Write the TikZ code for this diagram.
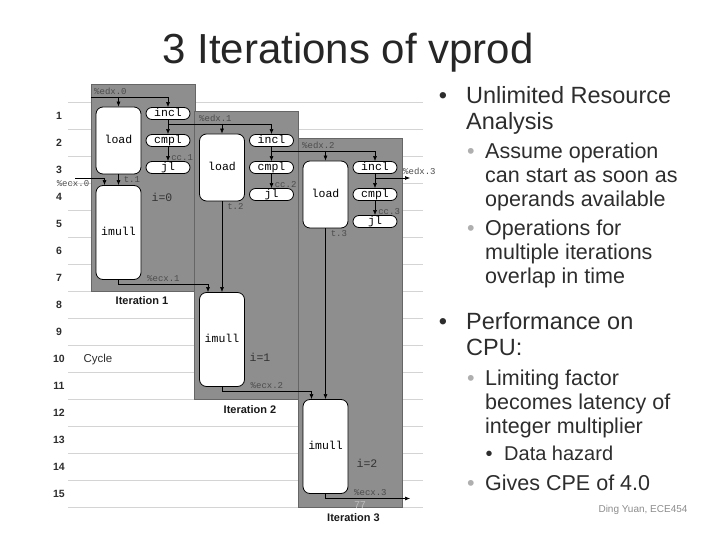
\documentclass[tikz,border=0pt]{standalone}
\usepackage{fontspec}
\setmainfont{Liberation Sans}
\setmonofont{Liberation Mono}
\usetikzlibrary{arrows.meta}
\definecolor{iterG}{RGB}{142,142,142}
\definecolor{gridG}{RGB}{212,212,212}
\definecolor{txtD}{RGB}{45,45,45}
\definecolor{bulG}{RGB}{175,175,175}

\begin{document}
\begin{tikzpicture}[x=1pt,y=-1pt,>={Latex[length=5pt,width=4pt]},
  op/.style={draw=black,fill=white,line width=0.8pt,rounded corners=7pt,minimum width=45pt,inner sep=0pt,
    text height=7.5pt,text depth=1.5pt,font=\ttfamily\fontsize{11.5}{12}\selectfont},
  pill/.style={op,rounded corners=6pt,minimum width=44pt,minimum height=12pt},
  reg/.style={font=\ttfamily\fontsize{9}{9}\selectfont,text=black!70,inner sep=0pt},
  wire/.style={line width=0.6pt,->},
  main/.style={anchor=base west,inner sep=0pt,text=txtD,font=\fontsize{23.5}{26}\selectfont},
  sub/.style={main,font=\fontsize{21.5}{24}\selectfont},
  subsub/.style={main,font=\fontsize{20}{22}\selectfont}]
\useasboundingbox (0,0) rectangle (720,540);

% title
\node[anchor=base,inner sep=0pt,text=black!85,font=\fontsize{42}{44}\selectfont] (title) at (348,63.5) {3 Iterations of vprod};

% cycle grid
\foreach \c in {0,...,15}
  \draw[gridG,line width=0.8pt] (68,{102+27*\c}) -- (423,{102+27*\c});
\foreach \c in {1,...,15}
  \node[font=\bfseries\fontsize{10.5}{11}\selectfont,text=txtD] (cyc\c) at (59,{88.5+27*\c}) {\c};
\node[font=\fontsize{11.5}{12}\selectfont,text=txtD] (cycle) at (98,360) {Cycle};

% iteration panels
\foreach \k/\dx/\dy/\di/\dm in {1/0/0/0/0,2/103.5/27/107/108,3/207/54/214/216} {
  \draw[black!60,fill=iterG,line width=0.6pt] ({91+\dx},{84+\dy}) rectangle ({195+\dx},{291+\dm});
  \node[op,minimum height=67pt] (load\k) at ({118.5+\dx},{140.5+\dy}) {load};
  \node[pill] (incl\k) at ({168+\dx},{113.5+\dy}) {incl};
  \node[pill] (cmpl\k) at ({168+\dx},{140.5+\dy}) {cmpl};
  \node[pill] (jl\k) at ({168+\dx},{167.5+\dy}) {jl};
  \node[op,minimum height=94pt] (imull\k) at ({118.5+\dx},{232.5+\di}) {imull};
  \draw[wire] (incl\k) -- (cmpl\k);
  \draw[wire] (cmpl\k) -- (jl\k) node[reg,pos=1,anchor=south west,xshift=3pt] {cc.\k};
  \draw[wire] (load\k) -- (imull\k) node[reg,pos=0,anchor=north west,xshift=5pt,yshift=-2pt] {t.\k};
}
\node[font=\bfseries\fontsize{11}{12}\selectfont,text=black!90] (iter1) at (142,301) {Iteration 1};
\node[font=\bfseries\fontsize{11}{12}\selectfont,text=black!90] (iter2) at (250,410) {Iteration 2};
\node[font=\bfseries\fontsize{11}{12}\selectfont,text=black!90] (iter3) at (353.5,518) {Iteration 3};
\node[font=\ttfamily\fontsize{11.5}{12}\selectfont,text=black!80] (i0) at (162,197) {i=0};
\node[font=\ttfamily\fontsize{11.5}{12}\selectfont,text=black!80] (i1) at (260,357) {i=1};
\node[font=\ttfamily\fontsize{11.5}{12}\selectfont,text=black!80] (i2) at (367,463) {i=2};

% %edx chain
\coordinate (edx0) at (91,97);
\coordinate (edx1) at (168,124);
\coordinate (edx2) at (271.5,151);
\coordinate (edx3) at (375,178);
\coordinate (edx3out) at (410,178);
\draw[wire] (edx0) -| (incl1);
\draw[wire] (load1 |- edx0) -- (load1);
\draw[wire] (edx1) -| (incl2);
\draw[wire] (load2 |- edx1) -- (load2);
\draw[wire] (edx2) -| (incl3);
\draw[wire] (load3 |- edx2) -- (load3);
\draw[wire] (edx3) -- (edx3out);
\node[reg,anchor=south west] (edx0l) at (94,95) {\%edx.0};
\node[reg,anchor=south west] (edx1l) at (199,122) {\%edx.1};
\node[reg,anchor=south west] (edx2l) at (302,149) {\%edx.2};
\node[reg,anchor=south west] (edx3l) at (403,175) {\%edx.3};

% %ecx chain
\coordinate (ecx0) at (75,178);
\coordinate (ecx1) at (118.5,284.5);
\coordinate (ecx2) at (222,391);
\coordinate (ecx3) at (325.5,498.5);
\coordinate (ecx3out) at (410,498.5);
\draw[wire] (ecx0) -| ([xshift=-14pt]imull1.north);
\draw[wire] (imull1) -- (ecx1) -| ([xshift=-14pt]imull2.north);
\draw[wire] (imull2) -- (ecx2) -| ([xshift=-14pt]imull3.north);
\draw[wire] (imull3) -- (ecx3) -- (ecx3out);
\node[reg] (ecx0l) at (73,184) {\%ecx.0};
\node[reg,anchor=south west] (ecx1l) at (147,282) {\%ecx.1};
\node[reg,anchor=south west] (ecx2l) at (250.5,388.5) {\%ecx.2};
\node[reg,anchor=south west] (ecx3l) at (354,496) {\%ecx.3};
\node[font=\fontsize{10}{10}\selectfont,text=black!25] (slide) at (360,505) {77};

% bullet text
\node[main,anchor=base] (b1) at (443,103.5) {\textbullet};
\node[main] (t1a) at (466,103.5) {Unlimited Resource};
\node[main] (t1b) at (466,129.5) {Analysis};
\node[sub,anchor=base,text=bulG] (b11) at (471,158.7) {\textbullet};
\node[sub] (t11a) at (485,158.7) {Assume operation};
\node[sub] (t11b) at (485,182.7) {can start as soon as};
\node[sub] (t11c) at (485,206.7) {operands available};
\node[sub,anchor=base,text=bulG] (b12) at (471,235.7) {\textbullet};
\node[sub] (t12a) at (485,235.7) {Operations for};
\node[sub] (t12b) at (485,259.7) {multiple iterations};
\node[sub] (t12c) at (485,283.7) {overlap in time};
\node[main,anchor=base] (b2) at (443,329.5) {\textbullet};
\node[main] (t2a) at (466,329.5) {Performance on};
\node[main] (t2b) at (466,355.5) {CPU:};
\node[sub,anchor=base,text=bulG] (b21) at (471,385.7) {\textbullet};
\node[sub] (t21a) at (485,385.7) {Limiting factor};
\node[sub] (t21b) at (485,409.7) {becomes latency of};
\node[sub] (t21c) at (485,433.7) {integer multiplier};
\node[subsub,anchor=base] (b211) at (489,460.2) {\textbullet};
\node[subsub] (t211) at (504,460.2) {Data hazard};
\node[sub,anchor=base,text=bulG] (b22) at (471,490.7) {\textbullet};
\node[sub] (t22) at (485,490.7) {Gives CPE of 4.0};
\node[font=\fontsize{10}{11}\selectfont,text=black!45] (foot) at (643,510) {Ding Yuan, ECE454};
\end{tikzpicture}
\end{document}
